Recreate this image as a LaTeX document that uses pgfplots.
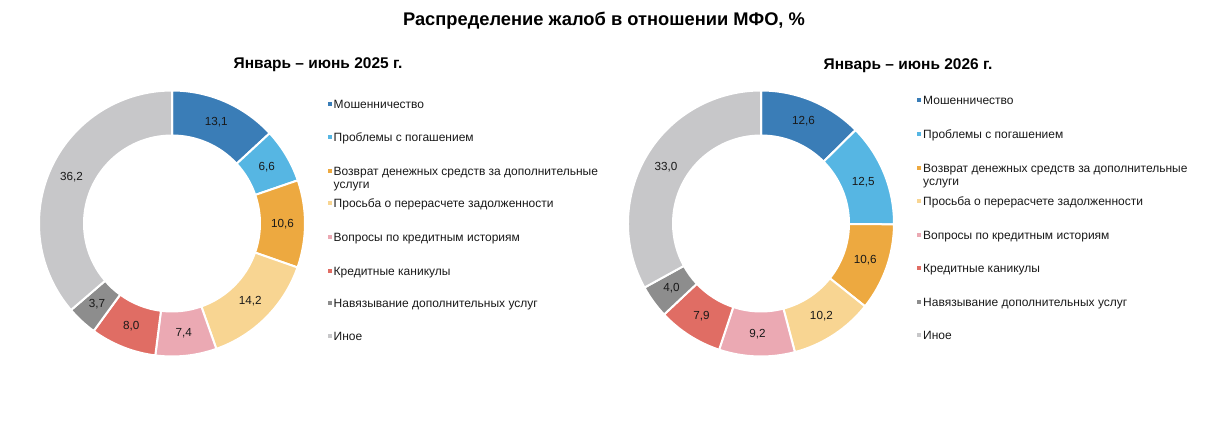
\documentclass[border=0pt]{standalone}
\usepackage{pgfplots}
\usepackage{pgfplotstable}
\pgfplotsset{compat=1.18}
\usepackage{fontspec}
\setmainfont{Liberation Sans}

\definecolor{cA}{HTML}{3A7DB7}
\definecolor{cB}{HTML}{56B6E3}
\definecolor{cC}{HTML}{EDA940}
\definecolor{cD}{HTML}{F8D592}
\definecolor{cE}{HTML}{EBA9B3}
\definecolor{cF}{HTML}{E06D64}
\definecolor{cG}{HTML}{8D8D8D}
\definecolor{cH}{HTML}{C7C7C9}

\pgfplotstableread{
value color
13.1 cA
6.6  cB
10.6 cC
14.2 cD
7.4  cE
8.0  cF
3.7  cG
36.2 cH
}\dataA

\pgfplotstableread{
value color
12.6 cA
12.5 cB
10.6 cC
10.2 cD
9.2  cE
7.9  cF
4.0  cG
33.0 cH
}\dataB

\pgfkeys{/pgf/number format/.cd,fixed,fixed zerofill,precision=1,use comma,assume math mode=true}

\def\Rout{133}
\def\Rin{88}
\def\Rmid{110.5}
\newcommand\lbl{\fontsize{11.7}{13.5}\selectfont}
\newcommand\lgd{\fontsize{12}{14}\selectfont}

\newcommand{\builddonut}[2]{%
  \gdef\cumsum{0}%
  \gdef\totalsum{0}%
  \pgfplotstableforeachcolumnelement{value}\of#1\as\cellv{%
    \pgfmathsetmacro\tmp{\totalsum+\cellv}\xdef\totalsum{\tmp}}%
  \pgfmathsetmacro\tmp{360/\totalsum}\xdef\degper{\tmp}%
  \gdef#2{}%
  \pgfplotstableforeachcolumnelement{value}\of#1\as\cellv{%
    \pgfplotstablegetelem{\pgfplotstablerow}{color}\of#1%
    \edef\cellc{\pgfplotsretval}%
    \pgfmathsetmacro\aS{90-\degper*\cumsum}%
    \pgfmathsetmacro\newcum{\cumsum+\cellv}%
    \pgfmathsetmacro\aE{90-\degper*\newcum}%
    \pgfmathsetmacro\aM{(\aS+\aE)/2}%
    \pgfmathsetmacro\xo{\Rout*cos(\aS)}%
    \pgfmathsetmacro\yo{\Rout*sin(\aS)}%
    \pgfmathsetmacro\xi{\Rin*cos(\aE)}%
    \pgfmathsetmacro\yi{\Rin*sin(\aE)}%
    \pgfmathsetmacro\xm{\Rmid*cos(\aM)}%
    \pgfmathsetmacro\ym{\Rmid*sin(\aM)}%
    \xdef#2{\unexpanded\expandafter{#2}%
      \noexpand\fill[\cellc,draw=white,line width=2pt] (axis cs:\xo,\yo)
        arc[start angle=\aS,end angle=\aE,radius=\Rout pt] -- (axis cs:\xi,\yi)
        arc[start angle=\aE,end angle=\aS,radius=\Rin pt] -- cycle;
      \noexpand\node[font=\noexpand\lbl,inner sep=0pt,text=black!90] at (axis cs:\xm,\ym) {\noexpand\pgfmathprintnumber{\cellv}};}%
    \xdef\cumsum{\newcum}%
  }%
}

% legend item: color, image y, text x, text
\newcommand{\legitem}[4]{%
  \fill[#1] (axis cs:156,{223.5-#2-2}) rectangle (axis cs:160,{223.5-#2+2});
  \node[anchor=base west,inner sep=0pt,font=\lgd,text=black!90] at (axis cs:#3,{223.5-#2-4.3}) {#4};
}
\newcommand{\legline}[3]{%
  \node[anchor=base west,inner sep=0pt,font=\lgd,text=black!90] at (axis cs:#2,{223.5-#1-4.3}) {#3};
}

\begin{document}
\builddonut{\dataA}{\slicesA}%
\builddonut{\dataB}{\slicesB}%
\begin{tikzpicture}
\useasboundingbox (0,0) rectangle (1213pt,438pt);
\begin{axis}[at={(172pt,214.5pt)}, anchor=center, x=1pt, y=1pt,
  xmin=-150, xmax=150, ymin=-150, ymax=150, hide axis, clip=false]
  \addplot[draw=none] coordinates {(0,0)};
  \slicesA
  \node[font=\fontsize{18.3}{21}\selectfont\bfseries] at (axis cs:432,202.5) {Распределение жалоб в отношении МФО, \%};
  \node[font=\fontsize{15.5}{18}\selectfont\bfseries] at (axis cs:146,158.5) {Январь – июнь 2025 г.};
  \legitem{cA}{104}{161.5}{Мошенничество}
  \legitem{cB}{137}{161.5}{Проблемы с погашением}
  \legitem{cC}{171}{161.5}{Возврат денежных средств за дополнительные}
  \legline{184.5}{161.5}{услуги}
  \legitem{cD}{203}{161.5}{Просьба о перерасчете задолженности}
  \legitem{cE}{237}{161.5}{Вопросы по кредитным историям}
  \legitem{cF}{271}{161.5}{Кредитные каникулы}
  \legitem{cG}{303}{161.5}{Навязывание дополнительных услуг}
  \legitem{cH}{336}{161.5}{Иное}
\end{axis}
\begin{axis}[at={(761pt,214.5pt)}, anchor=center, x=1pt, y=1pt,
  xmin=-150, xmax=150, ymin=-150, ymax=150, hide axis, clip=false]
  \addplot[draw=none] coordinates {(0,0)};
  \slicesB
  \node[font=\fontsize{15.5}{18}\selectfont\bfseries] at (axis cs:147,157.5) {Январь – июнь 2026 г.};
  \legitem{cA}{100}{162}{Мошенничество}
  \legitem{cB}{134}{162}{Проблемы с погашением}
  \legitem{cC}{168}{162}{Возврат денежных средств за дополнительные}
  \legline{181.5}{162}{услуги}
  \legitem{cD}{201}{162}{Просьба о перерасчете задолженности}
  \legitem{cE}{235}{162}{Вопросы по кредитным историям}
  \legitem{cF}{268}{162}{Кредитные каникулы}
  \legitem{cG}{302}{162}{Навязывание дополнительных услуг}
  \legitem{cH}{335}{162}{Иное}
\end{axis}
\end{tikzpicture}
\end{document}
